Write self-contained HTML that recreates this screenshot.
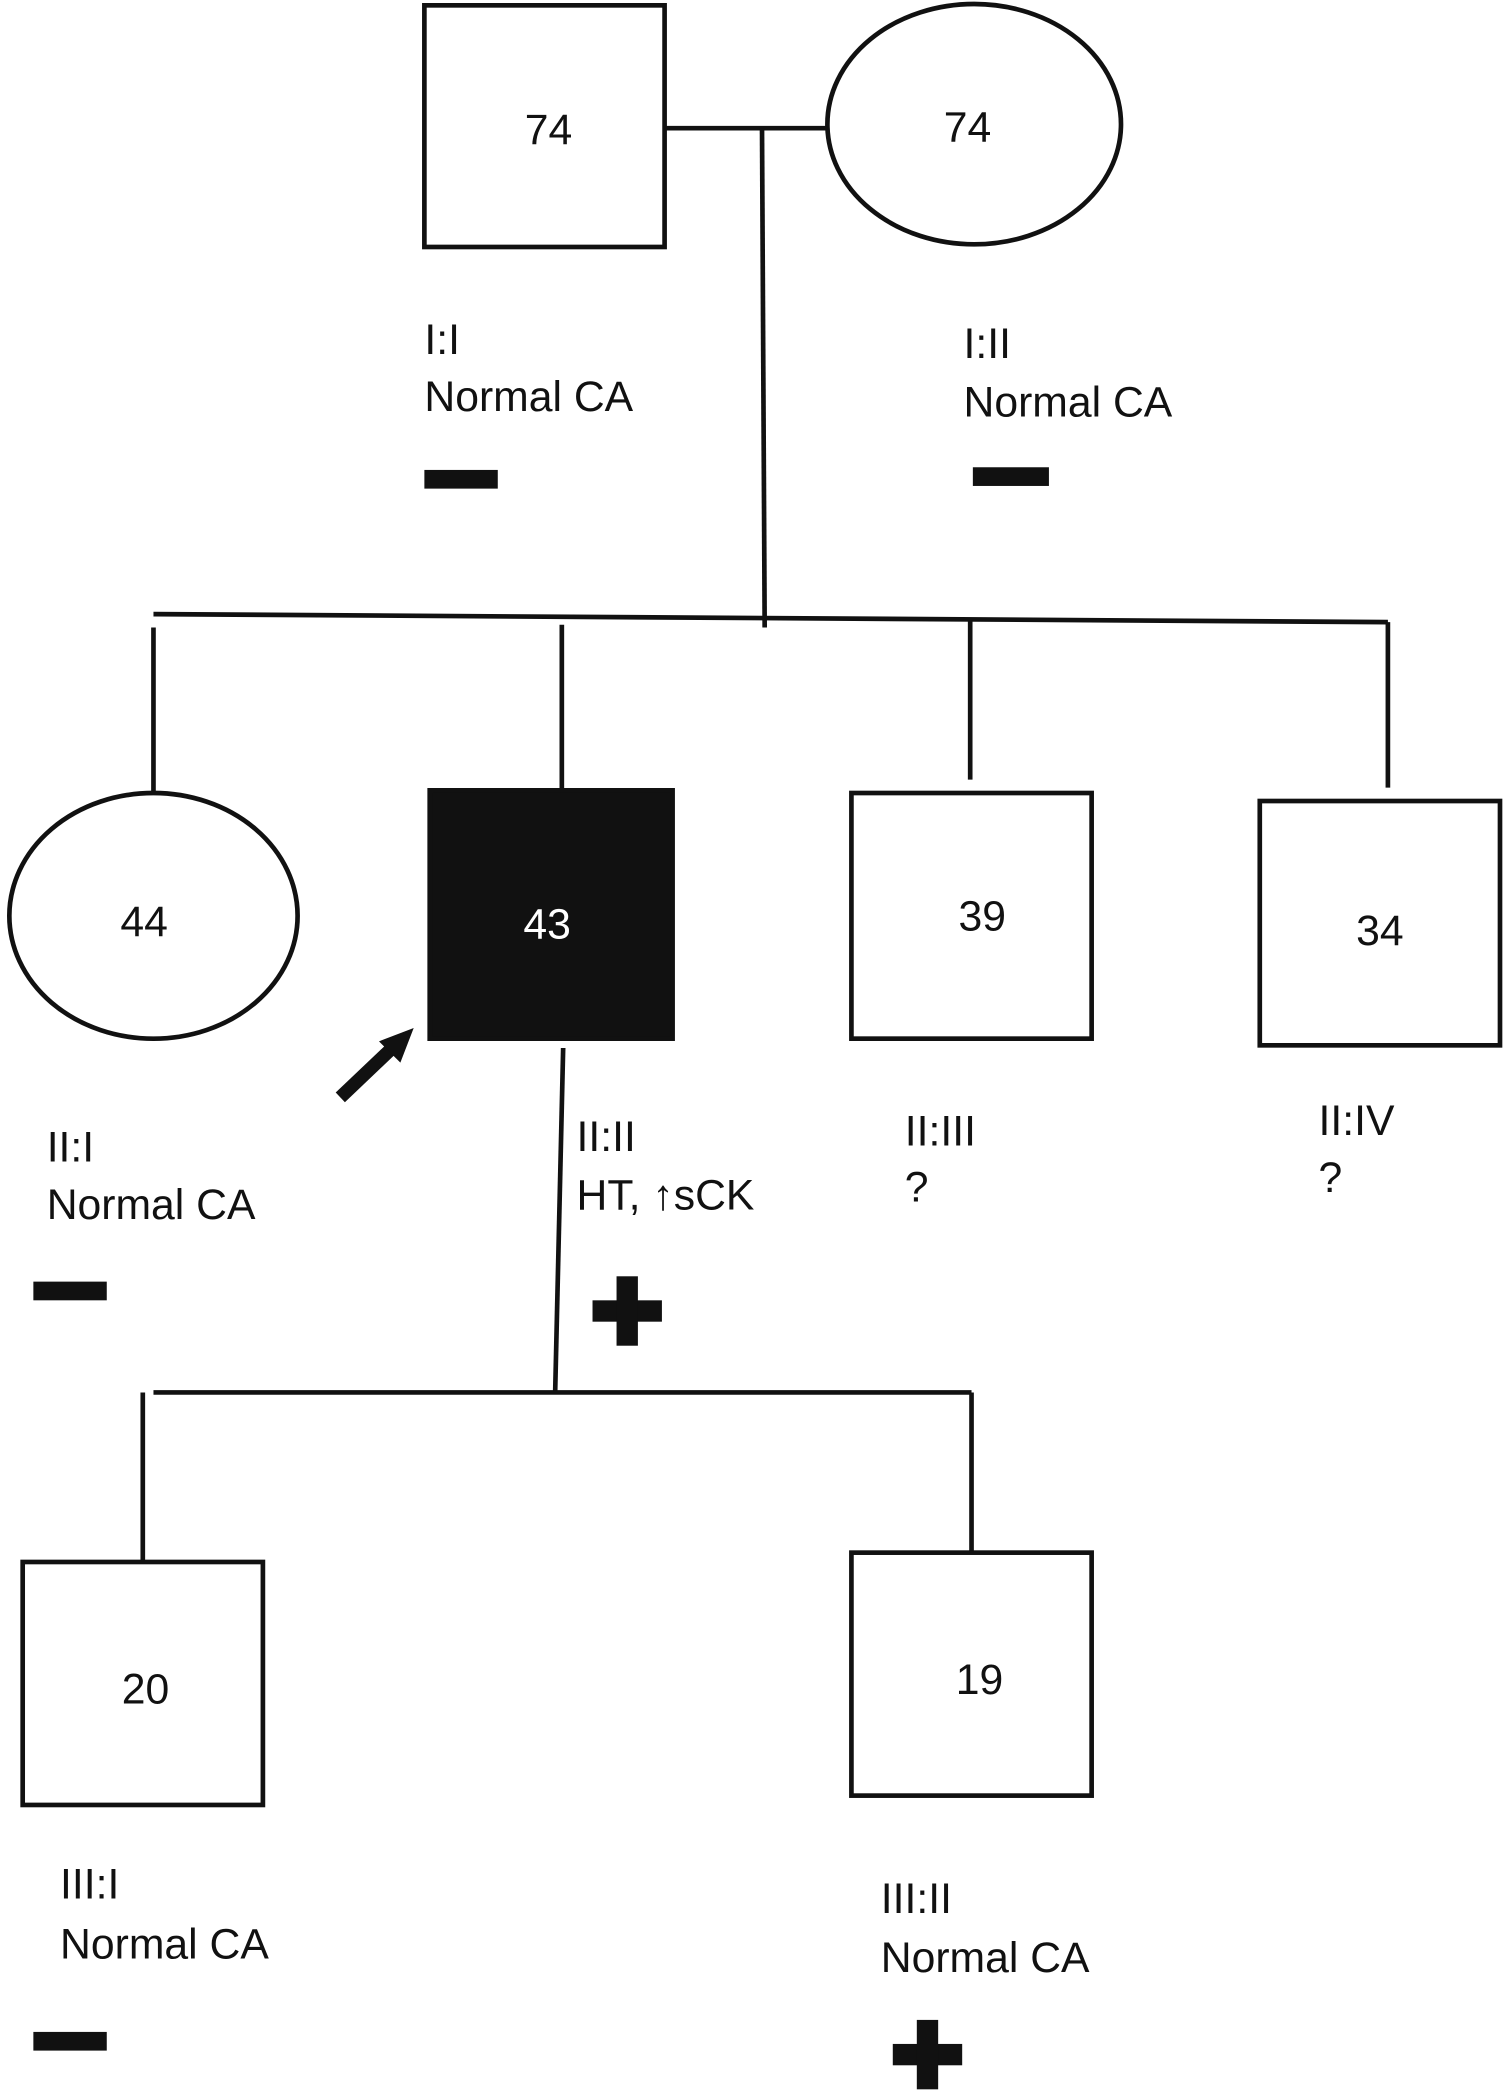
<!DOCTYPE html>
<html><head><meta charset="utf-8"><style>
html,body{margin:0;padding:0;background:#fff;}
svg{display:block;}
text{font-family:"Liberation Sans",Arial,sans-serif;fill:#111;}
</style></head><body>
<svg width="1508" height="2096" viewBox="0 0 1130 1570" preserveAspectRatio="none" xmlns="http://www.w3.org/2000/svg">
<g stroke="#111" stroke-width="3.5" fill="none">
<rect x="318" y="4" width="180" height="181"/>
<ellipse cx="730" cy="93" rx="110" ry="90"/>
<line x1="498" y1="96" x2="620" y2="96"/>
<line x1="571" y1="96" x2="573" y2="470"/>
<line x1="115" y1="460" x2="1040" y2="466"/>
<line x1="115" y1="470" x2="115" y2="594"/>
<line x1="421" y1="468" x2="421" y2="592"/>
<line x1="727" y1="464" x2="727" y2="584"/>
<line x1="1040" y1="466" x2="1040" y2="590"/>
<ellipse cx="115" cy="686" rx="108" ry="92"/>
<rect x="322" y="592" width="182" height="186" fill="#111"/>
<rect x="638" y="594" width="180" height="184"/>
<rect x="944" y="600" width="180" height="183"/>
<line x1="422" y1="785" x2="416" y2="1043"/>
<line x1="115" y1="1043" x2="728" y2="1043"/>
<line x1="107" y1="1043" x2="107" y2="1170"/>
<line x1="728" y1="1043" x2="728" y2="1163"/>
<rect x="17" y="1170" width="180" height="182"/>
<rect x="638" y="1163" width="180" height="182"/>
<line x1="255" y1="822" x2="296" y2="783" stroke-width="10"/>
</g>
<polygon points="310,770 284,780 300,796" fill="#111"/>
<g fill="#111">
<rect x="318" y="352" width="55" height="14"/>
<rect x="729" y="350" width="57" height="14"/>
<rect x="25" y="960" width="55" height="14"/>
<rect x="25" y="1522" width="55" height="14"/>
<rect x="444" y="974" width="52" height="16"/>
<rect x="462" y="956" width="16" height="52"/>
<rect x="669" y="1531" width="52" height="16"/>
<rect x="687" y="1513" width="16" height="52"/>
</g>
<g font-size="32">
<text x="411" y="108" text-anchor="middle">74</text>
<text x="725" y="106" text-anchor="middle">74</text>
<text x="108" y="701" text-anchor="middle">44</text>
<text x="410" y="703" text-anchor="middle" style="fill:#fff">43</text>
<text x="736" y="697" text-anchor="middle">39</text>
<text x="1034" y="708" text-anchor="middle">34</text>
<text x="109" y="1276" text-anchor="middle">20</text>
<text x="734" y="1269" text-anchor="middle">19</text>
<text x="318" y="265">I:I</text>
<text x="318" y="308">Normal CA</text>
<text x="722" y="268">I:II</text>
<text x="722" y="312">Normal CA</text>
<text x="35" y="870">II:I</text>
<text x="35" y="913">Normal CA</text>
<text x="432" y="862">II:II</text>
<text x="432" y="906">HT, ↑sCK</text>
<text x="678" y="858">II:III</text>
<text x="678" y="900">?</text>
<text x="988" y="850">II:IV</text>
<text x="988" y="893">?</text>
<text x="45" y="1422">III:I</text>
<text x="45" y="1467">Normal CA</text>
<text x="660" y="1433">III:II</text>
<text x="660" y="1477">Normal CA</text>
</g>
</svg>
</body></html>
